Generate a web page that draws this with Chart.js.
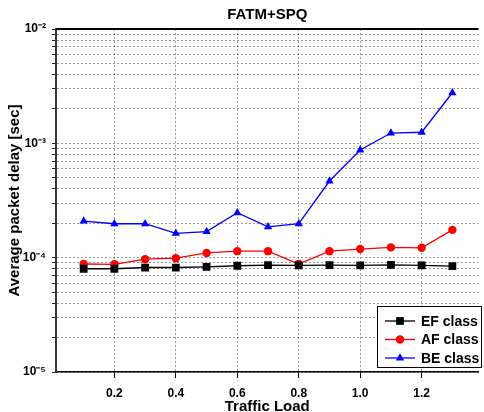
<!DOCTYPE html>
<html>
<head>
<meta charset="utf-8">
<script src="https://cdn.jsdelivr.net/npm/chart.js@4/dist/chart.umd.min.js"></script>
<style>
  html, body { margin: 0; padding: 0; background: #fff; }
  #wrap { width: 484px; height: 412px; }
</style>
</head>
<body>
<div id="wrap"><canvas id="c" width="484" height="412"></canvas></div>
<script>
// ---- data ----
const trafficLoad = [0.1, 0.2, 0.3, 0.4, 0.5, 0.6, 0.7, 0.8, 0.9, 1.0, 1.1, 1.2, 1.3];
const efDelay = [8.0e-5, 8.0e-5, 8.2e-5, 8.2e-5, 8.3e-5, 8.5e-5, 8.6e-5, 8.55e-5, 8.6e-5, 8.55e-5, 8.65e-5, 8.55e-5, 8.45e-5];
const afDelay = [8.8e-5, 8.75e-5, 9.7e-5, 9.9e-5, 1.10e-4, 1.14e-4, 1.14e-4, 8.8e-5, 1.14e-4, 1.19e-4, 1.23e-4, 1.22e-4, 1.75e-4];
const beDelay = [2.09e-4, 1.98e-4, 1.98e-4, 1.63e-4, 1.69e-4, 2.47e-4, 1.86e-4, 1.98e-4, 4.68e-4, 8.74e-4, 1.23e-3, 1.25e-3, 2.77e-3];
const seriesNames = ['EF class', 'AF class', 'BE class'];
const xTickValues = [0.2, 0.4, 0.6, 0.8, 1.0, 1.2];
const yDecades = [-5, -4, -3, -2];
const yDecadeLabels = ['10\u207B\u2075', '10\u207B\u2074', '10\u207B\u00B3', '10\u207B\u00B2'];
const chartTitle = 'FATM+SPQ';
const xTitle = 'Traffic Load';
const yTitle = 'Average packet delay [sec]';

const FONT = "'Liberation Sans', Arial, sans-serif";

function pts(ys) { return trafficLoad.map((x, i) => ({ x: x, y: ys[i] })); }

// tick values for log axis: 1..9 x each decade, then the top decade
const yTickValues = [];
yDecades.forEach((e, i) => {
  if (i < yDecades.length - 1) {
    for (let m = 1; m <= 9; m++) yTickValues.push(m * Math.pow(10, e));
  } else {
    yTickValues.push(Math.pow(10, e));
  }
});

function decadeLabel(v) {
  const e = Math.round(Math.log10(v));
  if (Math.abs(Math.log10(v) - e) > 1e-6) return '';
  const idx = yDecades.indexOf(e);
  return idx >= 0 ? yDecadeLabels[idx] : '';
}

// Legend box drawn inside the plot, bottom-right
const boxLegend = {
  id: 'boxLegend',
  afterDraw(chart) {
    const ctx = chart.ctx;
    const a = chart.chartArea;
    const x0 = 377, y0 = 306, w = 104, h = 61;
    ctx.save();
    ctx.fillStyle = '#fff';
    ctx.fillRect(x0, y0, w, h);
    ctx.strokeStyle = '#000';
    ctx.lineWidth = 1;
    ctx.strokeRect(x0 + 0.5, y0 + 0.5, w, h);
    chart.data.datasets.forEach((ds, i) => {
      const y = y0 + 15 + i * 18.5;
      ctx.strokeStyle = ds.borderColor;
      ctx.lineWidth = 1.3;
      ctx.beginPath();
      ctx.moveTo(x0 + 8, y);
      ctx.lineTo(x0 + 38, y);
      ctx.stroke();
      ctx.fillStyle = ds.backgroundColor;
      Chart.helpers.drawPoint(ctx, {
        pointStyle: ds.pointStyle, radius: ds.pointRadius, borderWidth: 0, rotation: 0
      }, x0 + 23, y);
      ctx.fillStyle = '#000';
      ctx.font = 'bold 14px ' + FONT;
      ctx.textBaseline = 'middle';
      ctx.textAlign = 'left';
      ctx.fillText(ds.label, x0 + 44, y + 1);
    });
    // top frame line
    ctx.strokeStyle = '#000';
    ctx.lineWidth = 2;
    ctx.beginPath();
    ctx.moveTo(a.left, a.top);
    ctx.lineTo(a.right, a.top);
    ctx.stroke();
    ctx.restore();
  }
};

new Chart(document.getElementById('c'), {
  type: 'line',
  data: {
    datasets: [
      { label: seriesNames[0], data: pts(efDelay), borderColor: '#000000', backgroundColor: '#000000',
        pointStyle: 'rect', pointRadius: 5.5, pointBorderWidth: 0, borderWidth: 1.3 },
      { label: seriesNames[1], data: pts(afDelay), borderColor: '#ff0000', backgroundColor: '#ff0000',
        pointStyle: 'circle', pointRadius: 4.2, pointBorderWidth: 0, borderWidth: 1.3 },
      { label: seriesNames[2], data: pts(beDelay), borderColor: '#0000ff', backgroundColor: '#0000ff',
        pointStyle: 'triangle', pointRadius: 4.8, pointBorderWidth: 0, borderWidth: 1.3 }
    ]
  },
  options: {
    responsive: false,
    animation: false,
    devicePixelRatio: 1,
    layout: { padding: 0 },
    plugins: {
      legend: { display: false },
      tooltip: { enabled: false },
      title: {
        display: true, text: chartTitle, color: '#000', fullSize: false,
        font: { family: FONT, size: 15, weight: 'bold' },
        padding: { top: 6, bottom: 5 }
      }
    },
    scales: {
      x: {
        type: 'linear', min: 0.01, max: 1.385,
        afterBuildTicks: s => { s.ticks = xTickValues.map(v => ({ value: v })); },
        afterFit: s => { s.height = 40; },
        ticks: {
          color: '#000', padding: 8,
          font: { family: FONT, size: 12, weight: 'bold' },
          callback: v => Number(v).toFixed(1)
        },
        grid: { color: 'rgba(0,0,0,0.4)', lineWidth: 1, tickLength: 6, tickColor: '#000', tickBorderDash: [] },
        border: { display: true, color: '#000', width: 1.5, dash: [2, 2] },
        title: {
          display: true, text: xTitle, color: '#000',
          font: { family: FONT, size: 15, weight: 'bold' },
          padding: { top: 0, bottom: -4 }
        }
      },
      y: {
        type: 'logarithmic', min: 1e-5, max: 1e-2,
        afterBuildTicks: s => { s.ticks = yTickValues.map(v => ({ value: v })); },
        afterFit: s => { s.width = 56; },
        ticks: {
          color: '#000', padding: 6, autoSkip: false,
          font: { family: FONT, size: 12, weight: 'bold' },
          callback: v => decadeLabel(v)
        },
        grid: { color: 'rgba(0,0,0,0.4)', lineWidth: 1, tickLength: 4, tickColor: '#222', tickBorderDash: [] },
        border: { display: true, color: '#333', width: 2, dash: [2, 2] },
        title: {
          display: true, text: yTitle, color: '#000',
          font: { family: FONT, size: 15, weight: 'bold' },
          padding: { top: 6, bottom: 0 }
        }
      }
    }
  },
  plugins: [boxLegend]
});
</script>
</body>
</html>
